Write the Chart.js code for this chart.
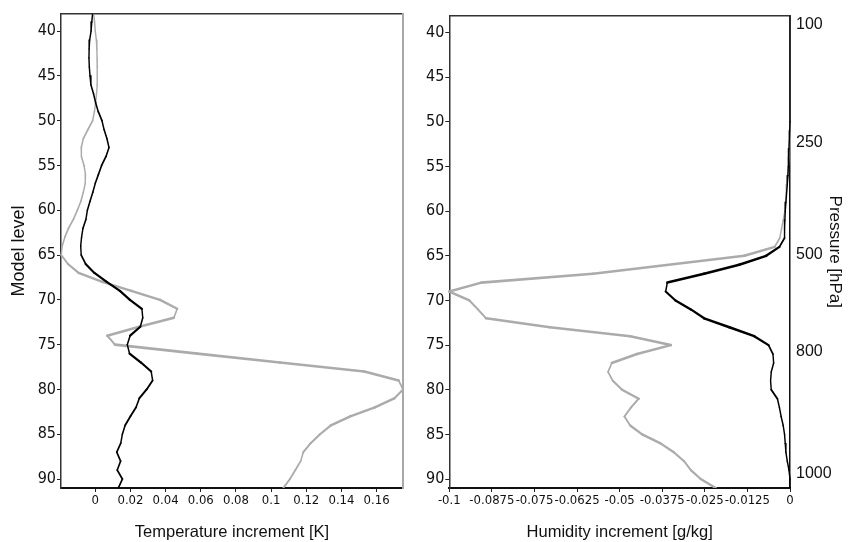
<!DOCTYPE html>
<html><head><meta charset="utf-8">
<script src="https://cdn.jsdelivr.net/npm/chart.js@4.4.1/dist/chart.umd.min.js"></script>
<style>
html,body{margin:0;padding:0;background:#fff;}
#wrap{position:relative;width:852px;height:542px;overflow:hidden;background:#fff;}
#c1{position:absolute;left:0;top:0;}
#c2{position:absolute;left:425px;top:0;}
</style></head><body>
<div id="wrap"><canvas id="c1" width="425" height="542"></canvas><canvas id="c2" width="427" height="542"></canvas></div>
<script>
// ---- data ----
const modelLevels = [38,39,40,41,42,43,44,45,46,47,48,49,50,51,52,53,54,55,56,57,58,59,60,61,62,63,64,65,66,67,68,69,70,71,72,73,74,75,76,77,78,79,80,81,82,83,84,85,86,87,88,89,90,91];
const tempBlack = [-0.0015,-0.002,-0.0024,-0.0032,-0.0035,-0.0036,-0.0034,-0.003,-0.0025,-0.001,
  0.0002,0.0017,0.0038,0.005,0.0066,0.0078,0.0061,0.0036,0.0018,0.0,
  -0.0014,-0.003,-0.0045,-0.0053,-0.007,-0.0078,-0.0083,-0.008,-0.0055,-0.0005,
  0.0065,0.014,0.0197,0.0265,0.027,0.0256,0.0198,0.0182,0.0195,0.026,
  0.0318,0.0326,0.0292,0.025,0.0232,0.02,0.017,0.0154,0.0145,0.0122,
  0.0144,0.0125,0.0154,0.0131];
const tempGray = [-0.001,-0.0004,0.0,0.0006,0.0009,0.001,0.0011,0.0011,0.0011,0.0007,
  0.0002,-0.0005,-0.0015,-0.0042,-0.0068,-0.008,-0.0079,-0.0064,-0.0056,-0.0057,
  -0.0068,-0.0082,-0.0102,-0.0124,-0.0152,-0.0173,-0.0188,-0.0194,-0.0155,-0.0095,
  0.004,0.0205,0.0368,0.0466,0.0447,0.025,0.0068,0.0112,0.058,0.105,
  0.153,0.1725,0.175,0.17,0.159,0.145,0.134,0.1278,0.1225,0.1183,
  0.1168,0.1138,0.1107,0.1069];
const humBlack = [0,0,0,0,0,0,0,0,0,0,
  0,0,0,-0.0001,-0.0002,-0.0003,-0.0004,-0.0005,-0.0006,-0.0008,
  -0.001,-0.0012,-0.0014,-0.0015,-0.0016,-0.0016,-0.0031,-0.007,-0.0149,-0.0252,
  -0.036,-0.0365,-0.0336,-0.0291,-0.0252,-0.0178,-0.0105,-0.0063,-0.005,-0.0048,
  -0.0055,-0.0057,-0.0055,-0.0037,-0.0031,-0.0026,-0.002,-0.0016,-0.0014,-0.0012,
  -0.0008,-0.0003,0,0];
const humGray = [0,0,0,0,0,0,0,0,0,0,
  0,0,0,0,-0.0001,-0.0002,-0.0003,-0.0005,-0.0007,-0.0009,
  -0.0011,-0.0013,-0.0015,-0.002,-0.0025,-0.003,-0.0045,-0.0134,-0.0356,-0.0578,
  -0.0906,-0.1,-0.0941,-0.0916,-0.0892,-0.0705,-0.0469,-0.035,-0.0449,-0.0523,
  -0.0534,-0.052,-0.0493,-0.0444,-0.0467,-0.0486,-0.0469,-0.0434,-0.038,-0.0341,
  -0.0311,-0.0291,-0.0262,-0.0218];
const levelTicks = [40,45,50,55,60,65,70,75,80,85,90];
const tempTicks = [0,0.02,0.04,0.06,0.08,0.1,0.12,0.14,0.16];
const tempTickLabels = ['0','0.02','0.04','0.06','0.08','0.1','0.12','0.14','0.16'];
const humTicks = [-0.1,-0.0875,-0.075,-0.0625,-0.05,-0.0375,-0.025,-0.0125,0];
const humTickLabels = ['-0.1','-0.0875','-0.075','-0.0625','-0.05','-0.0375','-0.025','-0.0125','0'];
const pressureLabels = ['100','250','500','800','1000'];
const pressureLevels = [39.1,52.3,64.9,75.7,89.4];

// ---- styling ----
const NARROW = "'Liberation Sans Narrow','Arial Narrow','DejaVu Sans Condensed',sans-serif";
const SANS = "'Liberation Sans',Arial,Helvetica,sans-serif";
const LEVEL_MIN = 38.1, LEVEL_MAX = 91;
const SQ = 0.55, BASE = 2.6;
function segWidth(c){
  const dx = c.p1.x - c.p0.x, dy = c.p1.y - c.p0.y;
  const lf = Math.hypot(dx, dy) || 1;
  const lo = Math.hypot(dx / SQ, dy);
  return BASE * SQ * lo / lf;
}
function series(vals){ return modelLevels.map((l, i) => ({x: vals[i], y: l})); }
function ds(vals, color, order){
  return {data: series(vals), borderColor: color, backgroundColor: color, showLine: true,
    pointRadius: 0, borderWidth: 2, order: order, borderCapStyle: 'round', borderJoinStyle: 'round',
    clip: {left: 3, top: 0, right: 3, bottom: 0},
    segment: {borderWidth: segWidth}};
}
function levelAxis(widthPx, title){
  const ax = {type: 'linear', position: 'left', reverse: true, min: LEVEL_MIN, max: LEVEL_MAX,
    afterBuildTicks: s => { s.ticks = levelTicks.map(v => ({value: v})); },
    ticks: {autoSkip: false, padding: 1, color: '#111', font: {family: NARROW, size: 16}},
    grid: {display: true, drawOnChartArea: false, drawTicks: true, tickLength: 4, color: '#222'},
    border: {display: true, color: '#333', width: 1.5},
    afterFit: s => { s.width = widthPx; }};
  if (title) ax.title = {display: true, text: title, color: '#111', font: {family: SANS, size: 18}, padding: {top: 8, bottom: 0}};
  return ax;
}
function valueAxis(min, max, ticks, labels, title){
  return {type: 'linear', position: 'bottom', min: min, max: max,
    afterBuildTicks: s => { s.ticks = ticks.map(v => ({value: v})); },
    ticks: {autoSkip: false, maxRotation: 0, minRotation: 0, padding: 1, color: '#111',
      font: {family: NARROW, size: 13}, callback: (v, i) => labels[i]},
    grid: {display: true, drawOnChartArea: false, drawTicks: true, tickLength: 4, color: '#222'},
    border: {display: true, color: '#111', width: 2},
    title: {display: true, text: title, color: '#111', font: {family: SANS, size: 16.5}, padding: {top: 0, bottom: 0}},
    afterFit: s => { s.height = 54; }};
}
function topFrame(min, max){
  return {type: 'linear', position: 'top', min: min, max: max,
    ticks: {display: false}, grid: {display: false, drawTicks: false},
    border: {display: true, color: '#333', width: 1.5}, afterFit: s => { s.height = 0; }};
}
const common = {responsive: false, animation: false, devicePixelRatio: 1,
  plugins: {legend: {display: false}, tooltip: {enabled: false}}, events: []};

new Chart(document.getElementById('c1'), {
  type: 'scatter',
  data: {datasets: [ds(tempBlack, '#000000', 0), ds(tempGray, '#ababab', 1)]},
  options: Object.assign({}, common, {
    layout: {padding: {top: 14, right: 22, bottom: 0, left: 0}},
    scales: {
      x: valueAxis(-0.0195, 0.175, tempTicks, tempTickLabels, 'Temperature increment [K]'),
      y: levelAxis(61, 'Model level'),
      xTop: topFrame(-0.0195, 0.175),
      yRight: {type: 'linear', position: 'right', reverse: true, min: LEVEL_MIN, max: LEVEL_MAX,
        ticks: {display: false}, grid: {display: false, drawTicks: false},
        border: {display: true, color: '#a8a8a8', width: 2}, afterFit: s => { s.width = 0; }}
    }
  })
});

new Chart(document.getElementById('c2'), {
  type: 'scatter',
  data: {datasets: [ds(humBlack, '#000000', 0), ds(humGray, '#ababab', 1)]},
  options: Object.assign({}, common, {
    layout: {padding: {top: 14, right: 0, bottom: 0, left: 0}},
    scales: {
      x: valueAxis(-0.1, 0, humTicks, humTickLabels, 'Humidity increment [g/kg]'),
      y: levelAxis(24.3, null),
      xTop: topFrame(-0.1, 0),
      yP: {type: 'linear', position: 'right', reverse: true, min: LEVEL_MIN, max: LEVEL_MAX,
        afterBuildTicks: s => { s.ticks = pressureLevels.map(v => ({value: v})); },
        ticks: {autoSkip: false, padding: 6, color: '#111', font: {family: SANS, size: 16},
          callback: (v, i) => pressureLabels[i]},
        grid: {display: false, drawTicks: false},
        border: {display: true, color: '#111', width: 1.5},
        title: {display: true, text: 'Pressure [hPa]', color: '#111', font: {family: SANS, size: 17}, padding: {top: 7, bottom: 0}},
        afterFit: s => { s.width = 62; }}
    }
  })
});
</script>
</body></html>
